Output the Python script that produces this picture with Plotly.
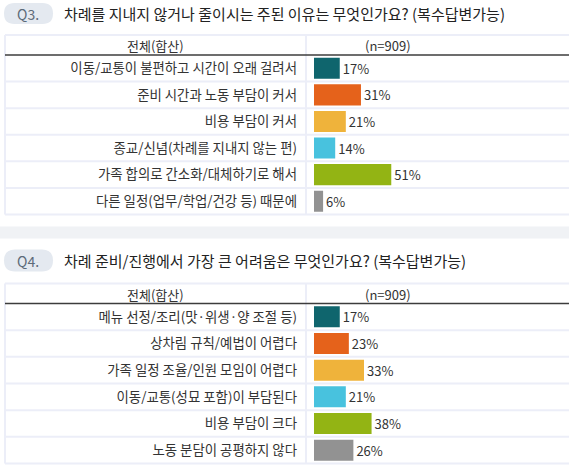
import plotly.graph_objects as go

W, H = 569, 468

# data
q3_title = "차례를 지내지 않거나 줄이시는 주된 이유는 무엇인가요? (복수답변가능)"
q3_labels = [
    "이동/교통이 불편하고 시간이 오래 걸려서",
    "준비 시간과 노동 부담이 커서",
    "비용 부담이 커서",
    "종교/신념(차례를 지내지 않는 편)",
    "가족 합의로 간소화/대체하기로 해서",
    "다른 일정(업무/학업/건강 등) 때문에",
]
q3_values = [17, 31, 21, 14, 51, 6]

q4_title = "차례 준비/진행에서 가장 큰 어려움은 무엇인가요? (복수답변가능)"
q4_labels = [
    "메뉴 선정/조리(맛·위생·양 조절 등)",
    "상차림 규칙/예법이 어렵다",
    "가족 일정 조율/인원 모임이 어렵다",
    "이동/교통(성묘 포함)이 부담된다",
    "비용 부담이 크다",
    "노동 분담이 공평하지 않다",
]
q4_values = [17, 23, 33, 21, 38, 26]

bar_colors = ["#0f656d", "#e5621b", "#efb33b", "#48c2de", "#93b414", "#929292"]
header_left = "전체(합산)"
header_right = "(n=909)"

FONT = "Noto Sans CJK KR"


def px(x):
    return x / W


def py(y):
    return 1 - y / H


fig = go.Figure()

# section layout in pixels
sections = [
    dict(q="Q3.", title=q3_title, labels=q3_labels, values=q3_values,
         pill=(3, 24), table_top=35, head=55, bottom=214.5, ax=""),
    dict(q="Q4.", title=q4_title, labels=q4_labels, values=q4_values,
         pill=(249.5, 271.5), table_top=283.5, head=303.5, bottom=463.5, ax="2"),
]

shapes = []
annotations = []
xmax = (W - 314) / 1.515

for s in sections:
    fig.add_trace(go.Bar(
        x=s["values"], y=s["labels"], orientation="h",
        marker=dict(color=bar_colors, line=dict(width=0)),
        width=0.79,
        texttemplate="%{x}%", textposition="outside", cliponaxis=False,
        textfont=dict(family=FONT, size=13, color="#333333"),
        hoverinfo="skip",
        xaxis="x" + s["ax"], yaxis="y" + s["ax"],
    ))

    # pill with rounded ends
    t, b = s["pill"]
    x0, x1 = 4, 53
    r = (b - t) / 2
    path = (f"M {px(x0 + r)} {py(t)} L {px(x1 - r)} {py(t)} "
            f"Q {px(x1)} {py(t)} {px(x1)} {py(t + r)} "
            f"Q {px(x1)} {py(b)} {px(x1 - r)} {py(b)} "
            f"L {px(x0 + r)} {py(b)} "
            f"Q {px(x0)} {py(b)} {px(x0)} {py(t + r)} "
            f"Q {px(x0)} {py(t)} {px(x0 + r)} {py(t)} Z")
    shapes.append(dict(type="path", xref="paper", yref="paper", path=path,
                       fillcolor="#e4e9f0", line=dict(width=0), layer="below"))
    annotations.append(dict(x=px(28), y=py((t + b) / 2), xref="paper", yref="paper",
                            xanchor="center", yanchor="middle",
                            text=s["q"], showarrow=False,
                            font=dict(family=FONT, size=14, color="#5d6b79")))
    annotations.append(dict(x=px(62), y=py((t + b) / 2), xref="paper", yref="paper",
                            xanchor="left", yanchor="middle", text=s["title"], showarrow=False,
                            font=dict(family=FONT, size=15, color="#222222")))

    # table grid
    grid = "#eceef8"
    top, head, bot = s["table_top"], s["head"], s["bottom"]
    shapes.append(dict(type="line", xref="paper", yref="paper",
                       x0=px(5), x1=1, y0=py(top), y1=py(top),
                       line=dict(color=grid, width=2), layer="below"))
    shapes.append(dict(type="line", xref="paper", yref="paper",
                       x0=px(5), x1=px(5), y0=py(top), y1=py(bot),
                       line=dict(color=grid, width=2), layer="below"))
    shapes.append(dict(type="line", xref="paper", yref="paper",
                       x0=px(306), x1=px(306), y0=py(top), y1=py(bot),
                       line=dict(color=grid, width=2), layer="below"))
    step = (bot - head) / len(s["labels"])
    for i in range(1, len(s["labels"]) + 1):
        yy = head + i * step
        shapes.append(dict(type="line", xref="paper", yref="paper",
                           x0=px(5), x1=1, y0=py(yy), y1=py(yy),
                           line=dict(color=grid, width=2), layer="below"))
    shapes.append(dict(type="line", xref="paper", yref="paper",
                       x0=px(5), x1=1, y0=py(head), y1=py(head),
                       line=dict(color="#3c3c3c", width=1.5)))
    hy = py((top + head) / 2 + 1)
    annotations.append(dict(x=px(155), y=hy, xref="paper", yref="paper",
                            xanchor="center", yanchor="middle",
                            text=header_left, showarrow=False,
                            font=dict(family=FONT, size=13, color="#333333")))
    annotations.append(dict(x=px(388), y=hy, xref="paper", yref="paper",
                            xanchor="center", yanchor="middle",
                            text=header_right, showarrow=False,
                            font=dict(family=FONT, size=13, color="#333333")))

# grey band between the two questions
shapes.append(dict(type="rect", xref="paper", yref="paper",
                   x0=0, x1=1, y0=py(238.5), y1=py(226.5),
                   fillcolor="#f0f2f5", line=dict(width=0), layer="below"))

axis_x = dict(range=[0, xmax], domain=[px(314), 1], visible=False, fixedrange=True)
axis_y = dict(autorange="reversed", showgrid=False, zeroline=False, showline=False,
              ticks="", ticklabelstandoff=16, automargin=False, fixedrange=True,
              tickfont=dict(family=FONT, size=13.4, color="#333333"))

fig.update_layout(
    width=W, height=H, autosize=False,
    margin=dict(l=0, r=0, t=0, b=0),
    paper_bgcolor="white", plot_bgcolor="rgba(0,0,0,0)",
    showlegend=False,
    font=dict(family=FONT),
    xaxis=dict(axis_x, anchor="y"),
    yaxis=dict(axis_y, anchor="x", domain=[py(214.5), py(55)]),
    xaxis2=dict(axis_x, anchor="y2"),
    yaxis2=dict(axis_y, anchor="x2", domain=[py(463.5), py(303.5)]),
    shapes=shapes,
    annotations=annotations,
)

fig.write_html("out.html", config={"displayModeBar": False},
               post_script="document.body.style.margin='0';")
